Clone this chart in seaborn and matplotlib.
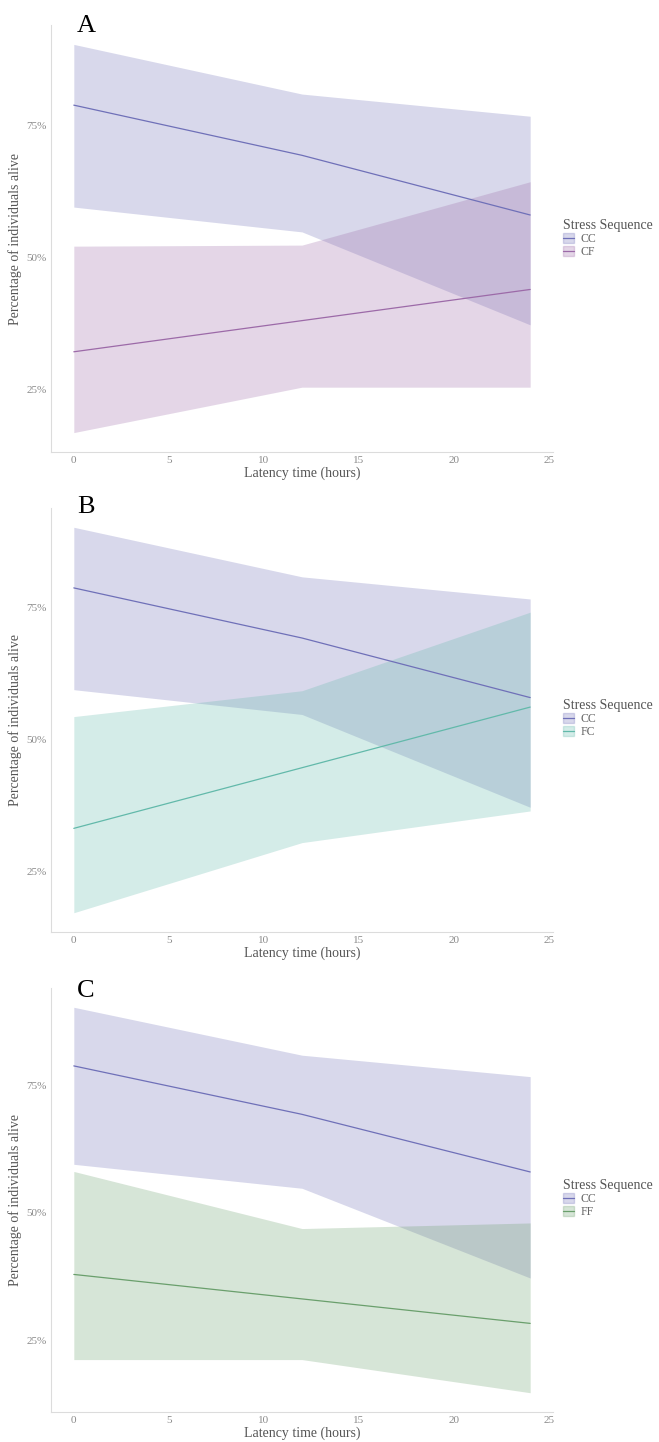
import pandas as pd
import matplotlib
matplotlib.use("Agg")
import matplotlib.pyplot as plt
from matplotlib.patches import Patch
from matplotlib.lines import Line2D
from matplotlib.ticker import PercentFormatter
import seaborn as sns

# --- data (percent alive) ---
hours = [0, 12, 24]

cc_fit = [78.8, 69.3, 58.0]
cc_lo = [59.5, 54.8, 37.2]
cc_hi = [90.3, 80.9, 76.7]

cf_fit = [32.1, 38.0, 43.9]
cf_lo = [16.8, 25.4, 25.4]
cf_hi = [52.1, 52.3, 64.3]

fc_fit = [33.2, 44.7, 56.2]
fc_lo = [17.2, 30.5, 36.5]
fc_hi = [54.4, 59.3, 74.2]

ff_fit = [37.9, 33.1, 28.3]
ff_lo = [21.2, 21.2, 14.7]
ff_hi = [58.1, 46.9, 48.0]

panel_letters = ["A", "B", "C"]
other_groups = ["CF", "FC", "FF"]

colors = {"CC": "#6f70b8", "CF": "#9c6aa8", "FC": "#62b9aa", "FF": "#6a9f6c"}
series = {
    "CC": (cc_fit, cc_lo, cc_hi),
    "CF": (cf_fit, cf_lo, cf_hi),
    "FC": (fc_fit, fc_lo, fc_hi),
    "FF": (ff_fit, ff_lo, ff_hi),
}

sns.set_theme(style="white")
plt.rcParams["font.family"] = ["Liberation Serif", "DejaVu Serif"]

fig = plt.figure(figsize=(6.59, 14.42), dpi=100)
W, H = 659, 1442

# axes boxes in pixels: (left, top, right, bottom)
boxes = [(51, 25, 553, 452), (51, 508, 553, 932), (51, 988, 553, 1412)]
letter_base = [32, 513, 997]
legend_top = [219, 699, 1179]

ALPHA = 0.27

for i, grp in enumerate(other_groups):
    l, t, r, b = boxes[i]
    ax = fig.add_axes([l / W, 1 - b / H, (r - l) / W, (b - t) / H])

    groups = ["CC", grp]
    rows = []
    for g in groups:
        fit, lo, hi = series[g]
        for h, f, a, z in zip(hours, fit, lo, hi):
            rows.append({"hours": h, "fit": f, "lo": a, "hi": z, "seq": g})
    df = pd.DataFrame(rows)

    for g in groups:
        d = df[df["seq"] == g]
        ax.fill_between(d["hours"], d["lo"], d["hi"], color=colors[g],
                        alpha=ALPHA, linewidth=0)

    sns.lineplot(data=df, x="hours", y="fit", hue="seq", palette=colors,
                 hue_order=groups, linewidth=0.9, legend=False, ax=ax)

    ax.margins(x=0.05, y=0.05)
    ax.set_xticks([0, 5, 10, 15, 20, 25])
    ax.set_yticks([25, 50, 75])
    ax.yaxis.set_major_formatter(PercentFormatter(xmax=100, decimals=0))
    ax.tick_params(length=0, labelsize=8, labelcolor="#8a8a8a", pad=3)
    ax.set_xlabel("Latency time (hours)", fontsize=10, color="#555555", labelpad=1)
    ax.set_ylabel("Percentage of individuals alive", fontsize=10, color="#555555",
                  labelpad=3)
    sns.despine(ax=ax)
    for side in ["left", "bottom"]:
        ax.spines[side].set_color("#dcdcdc")
        ax.spines[side].set_linewidth(0.8)

    fig.text(77 / W, 1 - letter_base[i] / H, panel_letters[i], fontsize=19,
             ha="left", va="baseline", color="black")

    handles = [(Patch(facecolor=colors[g], alpha=ALPHA, edgecolor=colors[g]),
                Line2D([], [], color=colors[g], linewidth=0.9)) for g in groups]
    leg = fig.legend(handles, groups, title="Stress Sequence",
                     loc="upper left", bbox_to_anchor=(563 / W, 1 - legend_top[i] / H),
                     frameon=False, fontsize=8.5, title_fontsize=10,
                     handlelength=0.9, handleheight=0.9, labelspacing=0.1,
                     handletextpad=0.6, borderpad=0, borderaxespad=0,
                     alignment="left")
    leg.get_title().set_color("#555555")
    for txt in leg.get_texts():
        txt.set_color("#666666")

fig.savefig("out.png", dpi=100)
